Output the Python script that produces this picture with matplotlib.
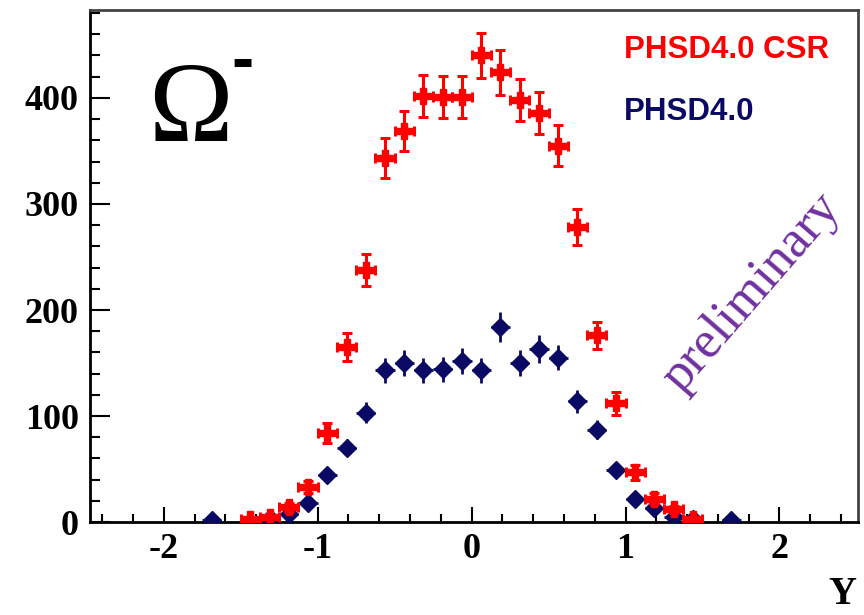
import numpy as np
import matplotlib
matplotlib.use("Agg")
import matplotlib.pyplot as plt
from matplotlib.ticker import MultipleLocator

# rapidity bin centres (bin width 0.125)
y_csr = [-1.4375, -1.3125, -1.1875, -1.0625, -0.9375, -0.8125, -0.6875, -0.5625,
         -0.4375, -0.3125, -0.1875, -0.0625, 0.0625, 0.1875, 0.3125, 0.4375,
         0.5625, 0.6875, 0.8125, 0.9375, 1.0625, 1.1875, 1.3125, 1.4375]
n_csr = [3, 5, 14, 33, 84, 165, 238, 343, 369, 402, 401, 401, 440, 424, 398, 386,
         355, 278, 176, 112, 47, 22, 12, 3]
err_csr = [2, 2, 4, 6, 9, 13, 15, 19, 19, 20, 20, 20, 21, 21, 20, 20,
           19, 17, 13, 11, 7, 5, 3, 2]

y_phsd = [-1.6875, -1.3125, -1.1875, -1.0625, -0.9375, -0.8125, -0.6875, -0.5625,
          -0.4375, -0.3125, -0.1875, -0.0625, 0.0625, 0.1875, 0.3125, 0.4375,
          0.5625, 0.6875, 0.8125, 0.9375, 1.0625, 1.1875, 1.3125, 1.4375, 1.6875]
n_phsd = [2, 4, 8, 18, 44, 70, 103, 143, 150, 143, 144, 152, 143, 184, 150, 163,
          155, 114, 87, 49, 22, 13, 5, 3, 2]
err_phsd = [1, 2, 3, 4, 7, 8, 10, 12, 12, 12, 12, 12, 12, 14, 12, 13,
            12, 11, 9, 7, 5, 4, 2, 2, 1]

half_bin = 0.0625
red = '#ff0000'
navy = '#0a0a64'

fig = plt.figure(figsize=(8.64, 6.15), dpi=100)
ax = fig.add_axes([0.104, 0.151, 0.889, 0.833])

# blue first, red on top
ax.errorbar(y_phsd, n_phsd, xerr=half_bin, yerr=err_phsd, fmt='D', color=navy,
            ms=9, elinewidth=2, capsize=0, zorder=3)
ax.errorbar(y_csr, n_csr, xerr=half_bin, yerr=err_csr, fmt='P', color=red,
            ms=12, elinewidth=2.2, capsize=3.5, capthick=2.2, zorder=4)

ax.set_xlim(-2.48, 2.51)
ax.set_ylim(0, 483)
ax.xaxis.set_minor_locator(MultipleLocator(0.2))
ax.yaxis.set_major_locator(MultipleLocator(100))
ax.yaxis.set_minor_locator(MultipleLocator(20))
ax.tick_params(axis='x', which='major', direction='in', length=11, width=1.5, pad=8)
ax.tick_params(axis='x', which='minor', direction='in', length=5.5, width=1.5)
ax.tick_params(axis='y', which='major', direction='in', length=14.5, width=1.5, pad=8)
ax.tick_params(axis='y', which='minor', direction='in', length=7, width=1.5)
ax.set_xticks([-2, -1, 0, 1, 2])
ax.set_xticklabels(['-2', '-1', '0', '1', '2'], fontfamily='Liberation Serif',
                   fontweight='bold', fontsize=26)
for lab in ax.get_yticklabels():
    lab.set_fontfamily('Liberation Serif')
    lab.set_fontweight('bold')
    lab.set_fontsize(26)

for side in ['left', 'bottom']:
    ax.spines[side].set_linewidth(2)
    ax.spines[side].set_color('black')
for side in ['top', 'right']:
    ax.spines[side].set_linewidth(2)
    ax.spines[side].set_color('#444444')

# labels and annotations
fig.text(856/864, 2/615, 'Y', ha='right', va='bottom',
         fontfamily='Liberation Serif', fontweight='bold', fontsize=28)
fig.text(190/864, 1 - 113/615, '\u03a9', ha='center', va='center',
         fontfamily='Liberation Serif', fontsize=82)
fig.text(242/864, 1 - 63/615, '-', ha='center', va='center',
         fontfamily='Liberation Sans', fontweight='bold', fontsize=48)
fig.text(624/864, 1 - 50/615, 'PHSD4.0 CSR', ha='left', va='center', color=red,
         fontfamily='Liberation Sans', fontweight='bold', fontsize=22.5)
fig.text(624/864, 1 - 112/615, 'PHSD4.0', ha='left', va='center', color=navy,
         fontfamily='Liberation Sans', fontweight='bold', fontsize=22.5)
fig.text(752/864, 1 - 293/615, 'preliminary', ha='center', va='center',
         rotation=49, rotation_mode='anchor', color='#7030a0',
         fontfamily='Liberation Serif', fontsize=38)

fig.savefig('out.png', dpi=100)
